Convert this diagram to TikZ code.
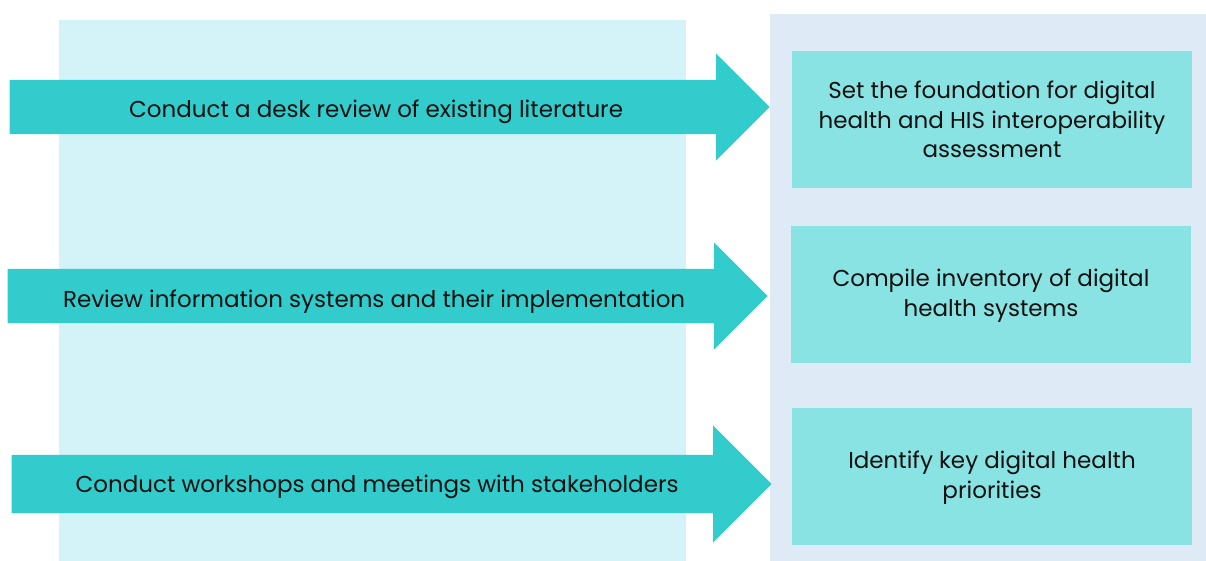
\documentclass[tikz,border=0pt]{standalone}
\usepackage{fontspec}
\setmainfont{Poppins}
\usetikzlibrary{shapes.arrows,positioning}
\definecolor{leftpanel}{HTML}{D4F3F8}
\definecolor{rightpanel}{HTML}{DEEAF6}
\definecolor{arrowfill}{HTML}{33CCCC}
\definecolor{goalfill}{HTML}{88E3E2}
\definecolor{inktext}{HTML}{111111}

\begin{document}
\begin{tikzpicture}[x=1pt,y=-1pt,
  taskarrow/.style={single arrow,fill=arrowfill,text=inktext,anchor=tip,
    single arrow tip angle=90,single arrow head extend=26.5pt,
    minimum height=760pt,inner xsep=0pt,inner ysep=16pt,
    text height=22pt,text depth=0pt,font=\fontsize{23}{29.5}\selectfont},
  goalbox/.style={fill=goalfill,text=inktext,minimum width=400pt,minimum height=137pt,
    align=center,inner sep=0pt,font=\fontsize{23}{29.5}\selectfont}]
\useasboundingbox (0,0) rectangle (1206,561);
% background panels
\fill[leftpanel] (59,20) rectangle (686,561);
\fill[rightpanel] (770,14) rectangle (1206,561);
% outcomes
\node[goalbox] (G1) at (992,119.5) {Set the foundation for digital\\health and HIS interoperability\\assessment};
\node[goalbox,text depth=4pt] (G2) at (991,294.5) {Compile inventory of digital\\health systems};
\node[goalbox,text depth=4pt] (G3) at (992,476.5) {Identify key digital health\\priorities};
% activities
\node[taskarrow] (A1) at (770,107) {Conduct a desk review of existing literature};
\node[taskarrow] (A2) at (768,296) {Review information systems and their implementation};
\node[taskarrow,inner ysep=18pt,text height=19pt,text depth=3pt,single arrow head extend=29.5pt] (A3) at (772,484) {Conduct workshops and meetings with stakeholders};
\end{tikzpicture}
\end{document}
